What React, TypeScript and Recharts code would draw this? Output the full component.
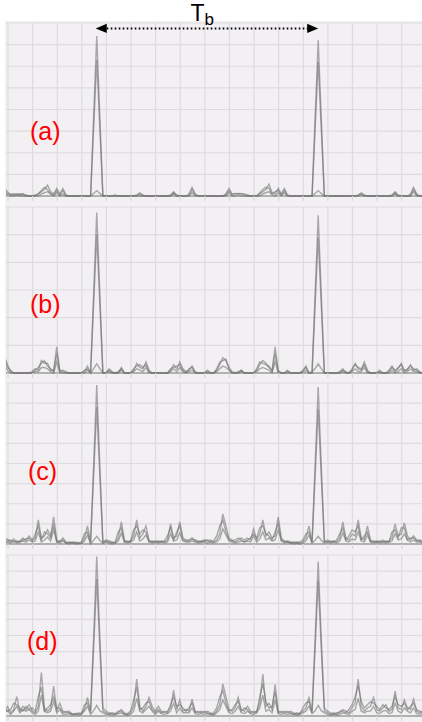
import { LineChart, Line, XAxis, YAxis, CartesianGrid, ReferenceLine } from "recharts";

// time samples, 8 per grid cell
const samples = Array.from({ length: 140 }, (_, i) => i);
const gridTicks = Array.from({ length: 18 }, (_, k) => 1.15 + 8 * k);

// bit period marker: between the two pulse peaks
const tbSpan = [30, 102];
const tbLevel = 7.75;

// (a)
const aTrace1 = [
  0.35, 0.2, 0.05, 0.1, 0.05, 0.1, 0.08, 0.05, 0, 0, 0.05, 0.1, 0.2, 0.3, 0.5, 0.2, 0.1, 0.35, 0.1, 0.35,
  0.05, 0, 0, 0, 0, 0, 0, 0, 0, 3.7, 7.4, 3.7, 0, 0, 0, 0, 0.05, 0, 0, 0,
  0, 0, 0, 0.05, 0.15, 0.05, 0, 0, 0, 0, 0, 0, 0, 0, 0.05, 0.2, 0.05, 0, 0, 0,
  0.1, 0.4, 0.1, 0, 0, 0, 0, 0, 0, 0, 0, 0, 0.1, 0.35, 0.1, 0.1, 0.12, 0.1, 0.1, 0.05,
  0, 0, 0, 0.1, 0.2, 0.3, 0.55, 0.15, 0.1, 0.35, 0.1, 0.35, 0.05, 0, 0, 0, 0, 0, 0, 0,
  0, 3.6, 7.2, 3.6, 0, 0, 0, 0, 0, 0, 0, 0, 0, 0, 0, 0.05, 0.15, 0.05, 0, 0,
  0, 0, 0, 0, 0, 0, 0.05, 0.2, 0.05, 0, 0, 0, 0.1, 0.4, 0.1, 0, 0, 0, 0, 0,
];
const aTrace2 = [
  0.25, 0.1, 0.1, 0.05, 0.1, 0.05, 0.1, 0, 0, 0, 0, 0.1, 0.25, 0.4, 0.3, 0.1, 0.05, 0.25, 0.05, 0.25,
  0, 0, 0, 0, 0, 0, 0, 0, 0, 3.15, 6.3, 3.15, 0, 0, 0, 0, 0, 0, 0, 0,
  0, 0, 0, 0, 0.1, 0, 0, 0, 0, 0, 0, 0, 0, 0, 0, 0.15, 0, 0, 0, 0,
  0, 0.3, 0.05, 0, 0, 0, 0, 0, 0, 0, 0, 0, 0.05, 0.25, 0.05, 0.12, 0.1, 0.12, 0.05, 0,
  0, 0, 0, 0.15, 0.3, 0.4, 0.35, 0.1, 0.2, 0.25, 0.05, 0.25, 0, 0, 0, 0, 0, 0, 0, 0,
  0, 3.1, 6.2, 3.1, 0, 0, 0, 0, 0, 0, 0, 0, 0, 0, 0, 0, 0.1, 0, 0, 0,
  0, 0, 0, 0, 0, 0, 0, 0.15, 0, 0, 0, 0, 0, 0.3, 0.05, 0, 0, 0, 0, 0,
];
const aTrace3 = [
  0.15, 0.05, 0, 0, 0.05, 0, 0, 0, 0, 0, 0, 0, 0.1, 0.15, 0.2, 0.1, 0, 0.15, 0, 0.1,
  0, 0, 0, 0, 0, 0, 0, 0, 0, 0.12, 0.25, 0.12, 0, 0, 0, 0, 0, 0, 0, 0,
  0, 0, 0, 0, 0, 0, 0, 0, 0, 0, 0, 0, 0, 0, 0, 0.1, 0, 0, 0, 0,
  0, 0.15, 0, 0, 0, 0, 0, 0, 0, 0, 0, 0, 0, 0.15, 0, 0, 0.05, 0, 0, 0,
  0, 0, 0, 0, 0.1, 0.15, 0.2, 0.05, 0, 0.15, 0, 0.15, 0, 0, 0, 0, 0, 0, 0, 0,
  0, 0.12, 0.25, 0.12, 0, 0, 0, 0, 0, 0, 0, 0, 0, 0, 0, 0, 0.05, 0, 0, 0,
  0, 0, 0, 0, 0, 0, 0, 0.1, 0, 0, 0, 0, 0, 0.2, 0, 0, 0, 0, 0, 0,
];

// (b)
const bTrace1 = [
  0.6, 0.3, 0.05, 0, 0, 0, 0, 0, 0, 0.05, 0.15, 0.1, 0.45, 0.35, 0.35, 0.1, 0.1, 0.95, 0.05, 0.1,
  0.05, 0, 0, 0, 0, 0, 0.05, 0.25, 0, 2.9, 5.8, 2.9, 0, 0, 0.15, 0.05, 0, 0, 0.2, 0,
  0, 0, 0.1, 0.35, 0.2, 0.15, 0.4, 0.1, 0, 0, 0, 0, 0, 0, 0.1, 0.3, 0.15, 0.4, 0.15, 0.05,
  0.1, 0.25, 0.05, 0, 0, 0, 0.1, 0, 0, 0.1, 0.3, 0.55, 0.45, 0.2, 0.05, 0, 0, 0.1, 0, 0,
  0, 0, 0.1, 0.3, 0.45, 0.35, 0.2, 0.1, 0.95, 0.1, 0, 0, 0.1, 0, 0, 0, 0, 0.05, 0.25, 0,
  0, 2.85, 5.7, 2.85, 0, 0, 0, 0, 0, 0.05, 0.15, 0, 0, 0.1, 0.35, 0.15, 0.1, 0.4, 0.1, 0,
  0, 0, 0.1, 0, 0, 0.1, 0.25, 0.05, 0.15, 0.35, 0.1, 0.1, 0.3, 0.1, 0.15, 0.05, 0, 0, 0, 0,
];
const bTrace2 = [
  0.5, 0.2, 0.1, 0, 0, 0, 0, 0, 0, 0, 0.1, 0.2, 0.35, 0.45, 0.25, 0.15, 0.05, 0.7, 0.1, 0.05,
  0, 0, 0, 0, 0, 0, 0.1, 0.15, 0, 2.5, 5.0, 2.5, 0, 0, 0.1, 0, 0, 0.05, 0.15, 0,
  0, 0, 0.15, 0.25, 0.3, 0.2, 0.3, 0.05, 0, 0, 0, 0, 0, 0, 0.15, 0.2, 0.25, 0.3, 0.1, 0,
  0.15, 0.2, 0, 0, 0, 0, 0.05, 0, 0, 0.15, 0.4, 0.45, 0.5, 0.15, 0, 0, 0.05, 0.1, 0, 0,
  0, 0, 0.15, 0.4, 0.35, 0.3, 0.25, 0.05, 0.7, 0.05, 0, 0, 0.05, 0, 0, 0, 0, 0.1, 0.2, 0,
  0, 2.45, 4.9, 2.45, 0, 0, 0, 0, 0, 0, 0.1, 0.05, 0, 0.15, 0.3, 0.2, 0.15, 0.3, 0.05, 0,
  0, 0, 0.05, 0, 0, 0.05, 0.2, 0.1, 0.2, 0.3, 0.05, 0.15, 0.25, 0.15, 0.1, 0, 0, 0, 0, 0,
];
const bTrace3 = [
  0.3, 0.1, 0, 0, 0, 0, 0, 0, 0, 0, 0.05, 0.05, 0.2, 0.2, 0.15, 0.05, 0, 0.4, 0, 0,
  0, 0, 0, 0, 0, 0, 0, 0.1, 0, 0.16, 0.33, 0.16, 0, 0, 0.05, 0, 0, 0, 0.1, 0,
  0, 0, 0.05, 0.15, 0.1, 0.05, 0.2, 0, 0, 0, 0, 0, 0, 0, 0.05, 0.15, 0.05, 0.2, 0.05, 0,
  0.05, 0.1, 0, 0, 0, 0, 0, 0, 0, 0.05, 0.15, 0.25, 0.2, 0.1, 0, 0, 0, 0.05, 0, 0,
  0, 0, 0.05, 0.15, 0.2, 0.15, 0.1, 0, 0.4, 0, 0, 0, 0, 0, 0, 0, 0, 0, 0.1, 0,
  0.05, 0.16, 0.33, 0.16, 0, 0, 0, 0, 0, 0, 0.05, 0, 0, 0.05, 0.15, 0.05, 0.05, 0.2, 0, 0,
  0, 0, 0, 0, 0, 0, 0.1, 0, 0.05, 0.15, 0, 0.05, 0.15, 0.05, 0.05, 0, 0, 0, 0, 0,
];

// (c)
const cTrace1 = [
  0.2, 0.25, 0.1, 0.25, 0.1, 0.15, 0.3, 0.15, 0.4, 0.2, 0.3, 1.2, 0.3, 0.4, 0.7, 0.4, 1.35, 0.2, 0.1, 0.3,
  0.1, 0.05, 0.1, 0.05, 0, 0.05, 0.3, 0.9, 0.1, 3.95, 7.9, 3.95, 0.1, 0.2, 0.15, 0.1, 0.05, 0.3, 1.1, 0.2,
  0.1, 0.15, 0.4, 1.2, 0.3, 0.5, 0.9, 0.2, 0.1, 0.15, 0.1, 0.15, 0.1, 0.2, 1.0, 0.3, 0.4, 1.1, 0.3, 0.2,
  0.2, 0.3, 0.15, 0.1, 0.15, 0.2, 0.15, 0.2, 0.1, 0.2, 0.5, 1.5, 0.9, 0.3, 0.2, 0.1, 0.2, 0.3, 0.2, 0.3,
  0.2, 0.75, 0.2, 0.5, 1.2, 0.4, 0.6, 0.3, 0.4, 1.35, 0.3, 0.1, 0.15, 0.1, 0.05, 0.1, 0.05, 0.1, 0.3, 0.9,
  0.1, 3.9, 7.8, 3.9, 0.1, 0.2, 0.1, 0.15, 0.1, 0.3, 1.1, 0.3, 0.2, 0.5, 0.4, 1.2, 0.3, 0.2, 0.9, 0.2,
  0.1, 0.15, 0.1, 0.2, 0.1, 0.15, 0.3, 1.0, 0.4, 0.5, 1.05, 0.4, 0.2, 0.4, 0.2, 0.15, 0.1, 0.2, 0.15, 0.1,
];
const cTrace2 = [
  0.1, 0.15, 0.2, 0.1, 0.15, 0.1, 0.2, 0.25, 0.3, 0.15, 0.5, 0.9, 0.2, 0.6, 0.5, 0.3, 1.0, 0.1, 0.15, 0.2,
  0.05, 0.1, 0.05, 0.1, 0.05, 0.1, 0.5, 0.6, 0.05, 3.4, 6.8, 3.4, 0.05, 0.15, 0.1, 0.05, 0.1, 0.6, 0.8, 0.1,
  0.15, 0.1, 0.7, 0.9, 0.5, 0.7, 0.6, 0.1, 0.15, 0.1, 0.15, 0.1, 0.15, 0.4, 0.8, 0.2, 0.6, 0.9, 0.2, 0.15,
  0.15, 0.25, 0.2, 0.15, 0.1, 0.15, 0.2, 0.1, 0.15, 0.4, 0.9, 1.2, 0.6, 0.2, 0.15, 0.2, 0.3, 0.2, 0.1, 0.2,
  0.3, 0.5, 0.3, 0.8, 0.9, 0.5, 0.4, 0.2, 0.6, 1.0, 0.2, 0.15, 0.1, 0.05, 0.1, 0.05, 0.1, 0.2, 0.5, 0.6,
  0.05, 3.35, 6.7, 3.35, 0.15, 0.1, 0.15, 0.1, 0.2, 0.5, 0.8, 0.2, 0.4, 0.7, 0.6, 0.9, 0.2, 0.4, 0.6, 0.1,
  0.15, 0.1, 0.15, 0.1, 0.15, 0.1, 0.6, 0.7, 0.3, 0.8, 0.8, 0.2, 0.3, 0.3, 0.15, 0.2, 0.15, 0.1, 0.2, 0.15,
];
const cTrace3 = [
  0.1, 0.1, 0.05, 0.15, 0.05, 0.1, 0.15, 0.1, 0.2, 0.1, 0.15, 0.6, 0.1, 0.2, 0.35, 0.15, 0.7, 0.1, 0.05, 0.15,
  0.05, 0, 0.05, 0, 0.05, 0, 0.15, 0.45, 0, 0.19, 0.38, 0.19, 0.05, 0.1, 0.05, 0, 0.05, 0.15, 0.55, 0.1,
  0.05, 0.1, 0.2, 0.6, 0.15, 0.25, 0.45, 0.1, 0.05, 0.1, 0.05, 0.1, 0.05, 0.1, 0.5, 0.15, 0.2, 0.55, 0.15, 0.1,
  0.1, 0.15, 0.1, 0.05, 0.1, 0.1, 0.05, 0.1, 0.05, 0.1, 0.25, 0.75, 0.45, 0.15, 0.1, 0.05, 0.1, 0.15, 0.1, 0.15,
  0.1, 0.4, 0.1, 0.25, 0.6, 0.2, 0.3, 0.15, 0.2, 0.7, 0.15, 0.05, 0.1, 0.05, 0, 0.05, 0, 0.05, 0.15, 0.45,
  0.05, 0.19, 0.38, 0.19, 0.05, 0.1, 0.05, 0.1, 0.05, 0.15, 0.55, 0.15, 0.1, 0.25, 0.2, 0.6, 0.15, 0.1, 0.45, 0.1,
  0.05, 0.1, 0.05, 0.1, 0.05, 0.1, 0.15, 0.5, 0.2, 0.25, 0.5, 0.2, 0.1, 0.2, 0.1, 0.1, 0.05, 0.1, 0.1, 0.05,
];

// (d)
const dTrace1 = [
  0.3, 0.6, 0.2, 0.4, 1.2, 0.3, 0.6, 0.4, 0.7, 0.3, 0.2, 0.6, 2.7, 0.5, 0.3, 0.5, 1.85, 0.3, 0.8, 0.3,
  0.2, 0.3, 0.1, 0.15, 0.1, 0.2, 0.4, 1.15, 0.3, 4.95, 9.9, 4.95, 0.5, 0.3, 0.2, 0.15, 0.1, 0.2, 0.4, 0.2,
  0.1, 0.2, 0.6, 2.3, 0.6, 0.3, 0.6, 1.15, 0.6, 0.3, 0.6, 0.3, 0.2, 0.3, 0.5, 1.6, 0.4, 1.0, 0.3, 0.4,
  0.3, 1.05, 0.3, 0.2, 0.3, 0.2, 0.3, 0.2, 0.1, 0.3, 0.7, 2.0, 1.2, 0.4, 0.3, 0.5, 1.15, 0.4, 0.3, 0.6,
  0.3, 0.2, 0.3, 0.8, 2.6, 0.6, 0.8, 0.4, 1.95, 0.3, 0.2, 0.3, 0.2, 0.3, 0.2, 0.1, 0.2, 0.3, 0.5, 1.15,
  0.3, 4.8, 9.6, 4.8, 0.5, 0.3, 0.2, 0.1, 0.2, 0.2, 0.4, 0.3, 0.2, 0.5, 0.8, 2.3, 0.6, 0.3, 0.5, 0.6,
  1.15, 0.4, 0.3, 0.5, 0.7, 0.3, 0.4, 1.55, 0.5, 0.4, 1.0, 0.5, 0.4, 1.05, 0.3, 0.2, 0.3, 0.2, 0.3, 0.2,
];
const dTrace2 = [
  0.5, 0.3, 0.4, 0.8, 0.7, 0.5, 0.3, 0.6, 0.4, 0.5, 0.3, 1.2, 1.8, 0.3, 0.5, 0.7, 1.2, 0.5, 0.5, 0.2,
  0.3, 0.2, 0.15, 0.1, 0.2, 0.1, 0.7, 0.8, 0.2, 4.25, 8.5, 4.25, 0.3, 0.2, 0.1, 0.2, 0.15, 0.3, 0.3, 0.1,
  0.15, 0.3, 1.0, 1.8, 0.4, 0.5, 0.8, 0.9, 0.4, 0.2, 0.4, 0.2, 0.3, 0.2, 0.7, 1.2, 0.6, 0.7, 0.5, 0.3,
  0.5, 0.8, 0.2, 0.3, 0.2, 0.3, 0.2, 0.1, 0.2, 0.5, 1.2, 1.6, 0.8, 0.3, 0.4, 0.7, 0.9, 0.3, 0.5, 0.4,
  0.2, 0.3, 0.2, 1.2, 2.0, 0.9, 0.5, 0.6, 1.5, 0.2, 0.3, 0.2, 0.3, 0.2, 0.1, 0.2, 0.1, 0.5, 0.8, 0.9,
  0.2, 4.2, 8.4, 4.2, 0.3, 0.2, 0.1, 0.2, 0.1, 0.3, 0.3, 0.2, 0.4, 0.7, 1.2, 1.9, 0.9, 0.5, 0.7, 0.9,
  0.8, 0.6, 0.4, 0.7, 0.5, 0.4, 0.6, 1.2, 0.7, 0.6, 0.8, 0.4, 0.6, 0.8, 0.4, 0.3, 0.2, 0.3, 0.2, 0.3,
];
const dTrace3 = [
  0.2, 0.35, 0.1, 0.3, 0.6, 0.2, 0.4, 0.3, 0.4, 0.2, 0.1, 0.3, 1.3, 0.3, 0.2, 0.3, 0.9, 0.2, 0.4, 0.1,
  0.1, 0.15, 0.05, 0.1, 0.05, 0.1, 0.3, 0.6, 0.1, 0.33, 0.66, 0.33, 0.2, 0.1, 0.1, 0.05, 0.1, 0.15, 0.2, 0.1,
  0.05, 0.1, 0.3, 1.1, 0.3, 0.2, 0.4, 0.6, 0.3, 0.1, 0.3, 0.15, 0.1, 0.15, 0.3, 0.8, 0.2, 0.5, 0.2, 0.2,
  0.2, 0.5, 0.15, 0.1, 0.15, 0.1, 0.15, 0.1, 0.05, 0.2, 0.4, 1.0, 0.6, 0.2, 0.15, 0.3, 0.6, 0.2, 0.15, 0.3,
  0.15, 0.1, 0.2, 0.5, 1.3, 0.3, 0.4, 0.2, 1.0, 0.15, 0.1, 0.15, 0.1, 0.15, 0.1, 0.05, 0.1, 0.2, 0.3, 0.6,
  0.15, 0.33, 0.66, 0.33, 0.2, 0.1, 0.05, 0.1, 0.05, 0.1, 0.2, 0.15, 0.1, 0.3, 0.4, 1.1, 0.3, 0.2, 0.3, 0.3,
  0.6, 0.2, 0.15, 0.3, 0.35, 0.15, 0.2, 0.8, 0.3, 0.2, 0.5, 0.3, 0.2, 0.5, 0.15, 0.1, 0.15, 0.1, 0.15, 0.1,
];

const panelLabels = ["(a)", "(b)", "(c)", "(d)"];
const panelMax = [8, 6, 8, 10];

const FONT = "'Liberation Sans', Arial, sans-serif";

const TbArrow = (props: any) => {
  const { x1, y1, x2 } = props;
  const mid = (x1 + x2) / 2;
  return (
    <g>
      <line x1={x1 + 10} y1={y1} x2={x2 - 10} y2={y1} stroke="#000" strokeWidth={2} strokeDasharray="1.6 2.4" />
      <polygon points={`${x1 - 1},${y1} ${x1 + 10},${y1 - 4.7} ${x1 + 10},${y1 + 4.7}`} fill="#000" />
      <polygon points={`${x2},${y1} ${x2 - 11},${y1 - 4.7} ${x2 - 11},${y1 + 4.7}`} fill="#000" />
      <text x={mid - 17} y={y1 - 7.6} fontSize={23} fontFamily={FONT} fill="#000">
        T<tspan fontSize={17} dy={4.3}>b</tspan>
      </text>
    </g>
  );
};

const NoTick = () => <g />;

interface PanelProps {
  traces: number[][];
  yMax: number;
  top: number;
  height: number;
  marginTop: number;
  arrow?: boolean;
}

const Panel = ({ traces, yMax, top, height, marginTop, arrow }: PanelProps) => {
  const data = samples.map((t, i) => ({ t, s0: traces[0][i], s1: traces[1][i], s2: traces[2][i] }));
  const yTicks = Array.from({ length: yMax + 1 }, (_, k) => k);
  return (
    <div style={{ position: "absolute", left: 0, top }}>
      <LineChart width={432} height={height} data={data} margin={{ top: marginTop, right: 0, left: 5, bottom: 0 }}>
        <CartesianGrid
          stroke="#dddbde"
          strokeWidth={1.2}
          verticalValues={gridTicks}
          horizontalValues={yTicks}
        />
        <XAxis
          type="number"
          dataKey="t"
          domain={[0.5, 139]}
          allowDataOverflow
          ticks={gridTicks}
          interval={0}
          tick={NoTick}
          tickSize={5}
          tickLine={{ stroke: "#d8d6d9", strokeWidth: 1.2 }}
          axisLine={{ stroke: "#7c7c7c" }}
          height={6}
        />
        <YAxis
          type="number"
          domain={[0, yMax]}
          ticks={yTicks}
          interval={0}
          width={1}
          tick={NoTick}
          tickSize={0}
          tickLine={false}
          axisLine={false}
        />
        {["s0", "s1", "s2"].map((k) => (
          <Line
            key={k}
            dataKey={k}
            type="linear"
            dot={false}
            stroke="#6b6b6b"
            strokeOpacity={0.55}
            strokeWidth={1.4}
            isAnimationActive={false}
          />
        ))}
        {arrow && (
          <ReferenceLine
            segment={[
              { x: tbSpan[0], y: tbLevel },
              { x: tbSpan[1], y: tbLevel },
            ]}
            ifOverflow="visible"
            shape={TbArrow}
          />
        )}
      </LineChart>
    </div>
  );
};

export default function App() {
  const layout = [
    { top: 0, height: 202, marginTop: 23, labelX: 30, labelY: 140.4 },
    { top: 206, height: 173, marginTop: 1, labelX: 30, labelY: 313 },
    { top: 382, height: 168, marginTop: 1, labelX: 28, labelY: 479.7 },
    { top: 554, height: 168, marginTop: 1, labelX: 27, labelY: 649.7 },
  ];
  const traces = [
    [aTrace1, aTrace2, aTrace3],
    [bTrace1, bTrace2, bTrace3],
    [cTrace1, cTrace2, cTrace3],
    [dTrace1, dTrace2, dTrace3],
  ];
  return (
    <div style={{ position: "absolute", left: 0, top: 0, width: 422, height: 722, overflow: "hidden", background: "#fff" }}>
      <div style={{ position: "absolute", left: 5, top: 21, right: 0, bottom: 0, background: "#f2f0f2" }} />
      {layout.map((p, i) => (
        <Panel
          key={i}
          traces={traces[i]}
          yMax={panelMax[i]}
          top={p.top}
          height={p.height}
          marginTop={p.marginTop}
          arrow={i === 0}
        />
      ))}
      <svg width={422} height={722} style={{ position: "absolute", left: 0, top: 0, pointerEvents: "none" }}>
        {layout.map((p, i) => (
          <text key={i} x={p.labelX} y={p.labelY} fontSize={25} fontFamily={FONT} fill="#ff0000">
            {panelLabels[i]}
          </text>
        ))}
      </svg>
    </div>
  );
}
